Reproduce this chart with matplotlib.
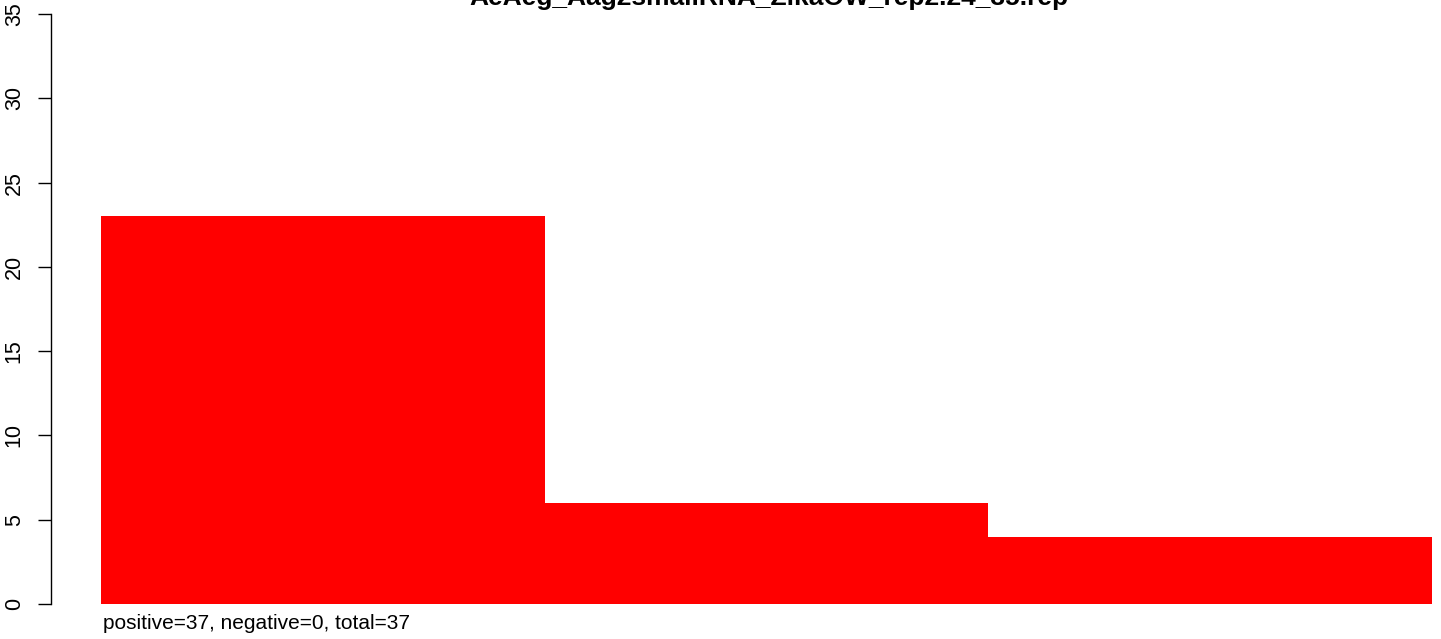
import matplotlib
matplotlib.use("Agg")
import matplotlib.pyplot as plt

# data
categories = ["1", "2", "3"]
counts = [23, 6, 4]
title = "AeAeg_Aag2smallRNA_ZikaOW_rep2.24_35.rep"
subtitle = "positive=37, negative=0, total=37"
yticks = [0, 5, 10, 15, 20, 25, 30, 35]

plt.rcParams['font.family'] = ['Liberation Sans', 'DejaVu Sans']

W, H = 1441, 639
fig = plt.figure(figsize=(W / 100, H / 100), dpi=100)

# plot region runs past the right and top edges, like the cropped R output
left_px, right_px = 50.5, 1487.0
bottom_px, top_px = 627.6, -9.6
ax = fig.add_axes([left_px / W, 1 - bottom_px / H,
                   (right_px - left_px) / W, (bottom_px - top_px) / H])

xpos = [i + 0.5 for i in range(len(counts))]
ax.bar(xpos, counts, width=1.0, color='#ff0000', edgecolor='none')

ax.set_xlim(-0.114, 3.124)
ax.set_ylim(-1.4, 36.4)

for s in ['top', 'right', 'bottom']:
    ax.spines[s].set_visible(False)
ax.spines['left'].set_bounds(0, 35)
ax.spines['left'].set_linewidth(1.0)
ax.set_xticks([])
ax.set_yticks(yticks)
ax.set_yticklabels([str(t) for t in yticks], fontsize=15.5, rotation=90, va='center')
ax.tick_params(axis='y', direction='out', length=9.5, width=1.0, pad=9)

fig.text(768.7 / W, 1 - 5 / H, title, ha='center', va='baseline',
         fontsize=19, fontweight='bold')
fig.text(103 / W, 1 - 629 / H, subtitle, ha='left', va='baseline', fontsize=15)

fig.savefig('out.png', dpi=100)
